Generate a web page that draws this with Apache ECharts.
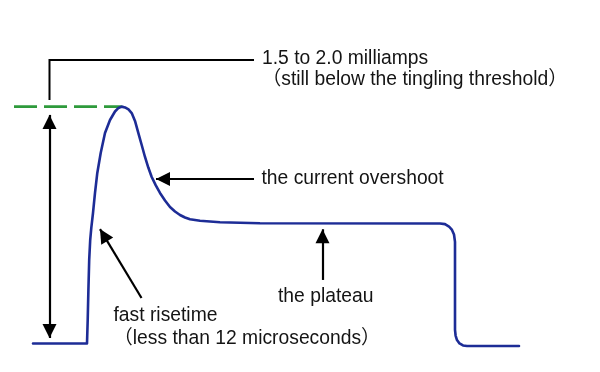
<!DOCTYPE html>
<html>
<head>
<meta charset="utf-8">
<script src="https://cdn.jsdelivr.net/npm/echarts@6/dist/echarts.min.js"></script>
<style>
html,body{margin:0;padding:0;background:#ffffff;}
#chart{width:600px;height:372px;}
</style>
</head>
<body>
<div id="chart"></div>
<script>
// Waveform: time (microseconds) vs current (milliamps)
var timeUs = [-18, 0, 0.233, 0.467, 0.733, 1.067, 1.433, 2, 2.667, 3.433, 4.567, 6, 7.667, 9.333, 10.5, 11.567, 12.667, 13.833, 14.9, 16, 17.1, 18.233, 19.333, 20.433, 21.567, 22.933, 24.333, 26, 27.667, 29.333, 31, 32.667, 34.333, 37.667, 44.333, 57.667, 117.667, 119.333, 120.667, 121.667, 122.333, 122.667, 122.667, 122.867, 123.333, 124.167, 125.333, 126.667, 144];
var currentMa = [0, 0, 0.199, 0.452, 0.706, 0.874, 0.976, 1.102, 1.271, 1.440, 1.609, 1.778, 1.887, 1.959, 1.989, 2.0, 1.993, 1.976, 1.946, 1.879, 1.778, 1.676, 1.575, 1.486, 1.406, 1.335, 1.271, 1.208, 1.153, 1.115, 1.085, 1.064, 1.049, 1.037, 1.024, 1.016, 1.014, 1.008, 0.988, 0.959, 0.921, 0.858, 0.115, 0.068, 0.030, 0.001, -0.016, -0.020, -0.020];

// Peak level marker (green dashed) and bracket to the label
var peakLevelT = [-24.33, 11.57];
var peakLevelI = [2.0, 2.0];
var bracketT = [-12.5, -12.5, 55.67];
var bracketI = [2.056, 2.394, 2.394];

// Annotation arrows [fromT, fromI, toT, toI]
var amplitudeArrow = [-12.5, 0.047, -12.5, 1.930];
var overshootArrow = [55.67, 1.389, 23, 1.389];
var risetimeArrow = [18.17, 0.385, 4.33, 0.966];
var plateauArrow = [78.5, 0.537, 78.5, 0.965];

// Texts
var labelPeak1 = '1.5 to 2.0 milliamps';
var labelPeak2 = '（still below the tingling threshold）';
var labelOvershoot = 'the current overshoot';
var labelPlateau = 'the plateau';
var labelRise1 = 'fast risetime';
var labelRise2 = '（less than 12 microseconds）';

function pairs(a, b) { return a.map(function (v, i) { return [v, b[i]]; }); }
function arrowData(a) { return [{ coord: [a[0], a[1]] }, { coord: [a[2], a[3]] }]; }

var chart = echarts.init(document.getElementById('chart'), null, { renderer: 'canvas' });
var FONT = '19.3px "Liberation Sans", Arial, "Noto Sans CJK JP", sans-serif';
var TXT = '#141414';
var ARROW_SIZE = [14, 14];
var ARROW_OFF = [[0, '50%'], [0, '50%']];

function txt(x, y, s) {
  return { type: 'text', x: x, y: y, silent: true,
    style: { text: s, font: FONT, fill: TXT, align: 'left', verticalAlign: 'middle' } };
}

chart.setOption({
  animation: false,
  backgroundColor: '#ffffff',
  grid: { left: 0, right: 0, top: 0, bottom: 0 },
  xAxis: { type: 'value', min: -29, max: 171, show: false },
  yAxis: { type: 'value', min: -0.24, max: 2.9, show: false },
  series: [
    {
      type: 'line', name: 'current',
      data: pairs(timeUs, currentMa),
      showSymbol: false, symbol: 'none', smooth: false, silent: true, z: 3,
      lineStyle: { color: '#1d2c96', width: 2.6, join: 'round', cap: 'round' },
      markLine: {
        silent: true, symbol: ['none', 'triangle'], symbolSize: ARROW_SIZE, symbolOffset: ARROW_OFF,
        label: { show: false },
        lineStyle: { color: '#000000', width: 2.2, type: 'solid' },
        emphasis: { disabled: true },
        data: [arrowData(overshootArrow), arrowData(risetimeArrow), arrowData(plateauArrow)]
      }
    },
    {
      type: 'line', name: 'peak level',
      data: pairs(peakLevelT, peakLevelI),
      showSymbol: false, symbol: 'none', silent: true, z: 2,
      lineStyle: { color: '#2e9a3c', width: 2.6, type: [23, 7] }
    },
    {
      type: 'line', name: 'bracket',
      data: pairs(bracketT, bracketI),
      showSymbol: false, symbol: 'none', silent: true, z: 2,
      lineStyle: { color: '#000000', width: 2, join: 'miter' },
      markLine: {
        silent: true, symbol: ['triangle', 'triangle'], symbolSize: ARROW_SIZE, symbolOffset: ARROW_OFF,
        label: { show: false },
        lineStyle: { color: '#000000', width: 2.2, type: 'solid' },
        emphasis: { disabled: true },
        data: [arrowData(amplitudeArrow)]
      }
    }
  ],
  graphic: [
    txt(262, 58.4, labelPeak1),
    txt(262, 80.1, labelPeak2),
    txt(261.5, 178.4, labelOvershoot),
    txt(278, 296.6, labelPlateau),
    txt(113.5, 316.1, labelRise1),
    txt(113.5, 338.4, labelRise2)
  ]
});
</script>
</body>
</html>
